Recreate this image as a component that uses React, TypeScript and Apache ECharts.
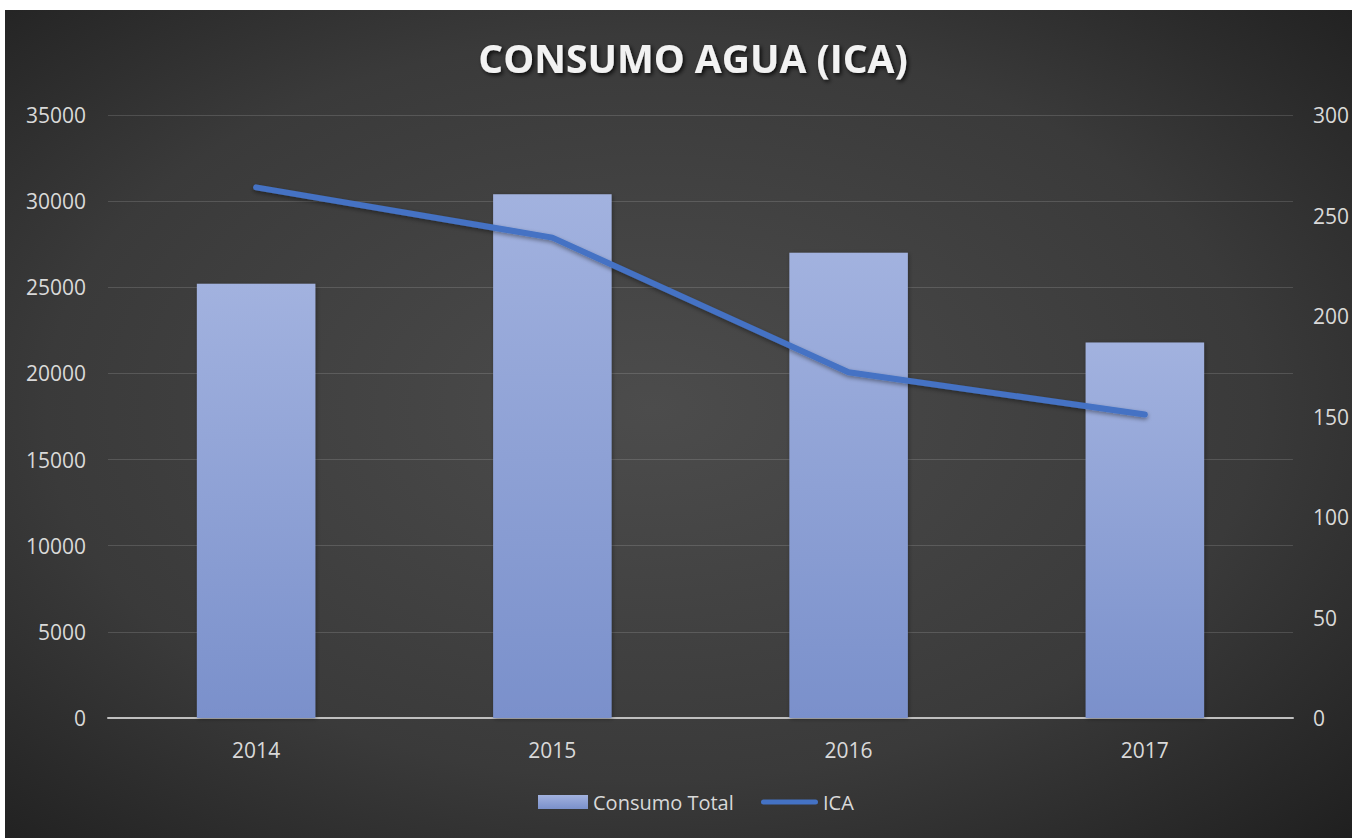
import React, { useEffect, useRef } from "react";
import * as echarts from "echarts";

const years = ["2014", "2015", "2016", "2017"];
const consumoTotal = [25200, 30400, 27000, 21800];
const ica = [264, 239, 172, 151];

export default function App() {
  const ref = useRef<HTMLDivElement>(null);
  useEffect(() => {
    const chart = echarts.init(ref.current!, null, { renderer: "svg" });
    const font = "'Open Sans', sans-serif";
    const labelColor = "#d9d9d9";
    const legendText = { color: labelColor, fontFamily: font, fontSize: 20 };
    chart.setOption({
      animation: false,
      backgroundColor: {
        type: "radial",
        x: 0.48,
        y: 0.48,
        r: 0.75,
        colorStops: [
          { offset: 0, color: "#4c4c4c" },
          { offset: 0.6, color: "#3a3a3a" },
          { offset: 1, color: "#1e1e1e" },
        ],
      },
      title: {
        text: "CONSUMO AGUA (ICA)",
        left: 683,
        top: 23,
        textAlign: "center",
        textStyle: {
          color: "#f2f2f2",
          fontFamily: font,
          fontWeight: "bold",
          fontSize: 39,
          textShadowColor: "rgba(0,0,0,0.8)",
          textShadowBlur: 4,
          textShadowOffsetX: 2,
          textShadowOffsetY: 2,
        },
      },
      legend: [
        {
          left: 528,
          top: 777,
          itemWidth: 50,
          itemHeight: 14,
          itemGap: 7,
          textStyle: legendText,
          data: [{ name: "Consumo Total", icon: "rect" }],
        },
        {
          left: 751,
          top: 777,
          itemWidth: 57,
          itemHeight: 14,
          itemGap: 5,
          textStyle: legendText,
          data: [
            {
              name: "ICA",
              icon: "path://M0,0 M0,14 M2.5,4.5 L54.5,4.5 A2.5,2.5 0 0 1 54.5,9.5 L2.5,9.5 A2.5,2.5 0 0 1 2.5,4.5 Z",
              itemStyle: { color: "#4472c4" },
            },
          ],
        },
      ],
      grid: { left: 103, right: 54, top: 105, bottom: 120, containLabel: false },
      xAxis: {
        type: "category",
        data: years,
        axisLine: { show: true, lineStyle: { color: "#bfbfbf", width: 2 } },
        axisTick: { show: false },
        axisLabel: { color: labelColor, fontFamily: font, fontSize: 21, margin: 21 },
      },
      yAxis: [
        {
          type: "value",
          min: 0,
          max: 35000,
          interval: 5000,
          axisLine: { show: false },
          axisTick: { show: false },
          axisLabel: {
            color: labelColor,
            fontFamily: font,
            fontSize: 21,
            margin: 22,
            formatter: (v: number) => String(v),
          },
          splitLine: { lineStyle: { color: "rgba(255,255,255,0.14)", width: 1 } },
        },
        {
          type: "value",
          min: 0,
          max: 300,
          interval: 50,
          axisLine: { show: false },
          axisTick: { show: false },
          axisLabel: {
            color: labelColor,
            fontFamily: font,
            fontSize: 21,
            margin: 20,
            formatter: (v: number) => String(v),
          },
          splitLine: { show: false },
        },
      ],
      series: [
        {
          name: "Consumo Total",
          type: "bar",
          data: consumoTotal,
          barWidth: "40%",
          itemStyle: {
            color: {
              type: "linear",
              x: 0,
              y: 0,
              x2: 0,
              y2: 1,
              colorStops: [
                { offset: 0, color: "#a2b2df" },
                { offset: 1, color: "#7a90cb" },
              ],
            },
            shadowColor: "rgba(0,0,0,0.35)",
            shadowBlur: 4,
            shadowOffsetX: 1,
            shadowOffsetY: 1,
          },
        },
        {
          name: "ICA",
          type: "line",
          yAxisIndex: 1,
          data: ica,
          symbol: "none",
          lineStyle: {
            color: "#4472c4",
            width: 6,
            cap: "round",
            join: "round",
            shadowColor: "rgba(0,0,0,0.4)",
            shadowBlur: 4,
            shadowOffsetY: 2,
          },
          itemStyle: { color: "#4472c4" },
        },
      ],
    });
    return () => chart.dispose();
  }, []);
  return (
    <div style={{ position: "absolute", left: 0, top: 0, width: 1352, height: 838, background: "#fff" }}>
      <div ref={ref} style={{ position: "absolute", left: 5, top: 10, width: 1347, height: 828 }} />
    </div>
  );
}
